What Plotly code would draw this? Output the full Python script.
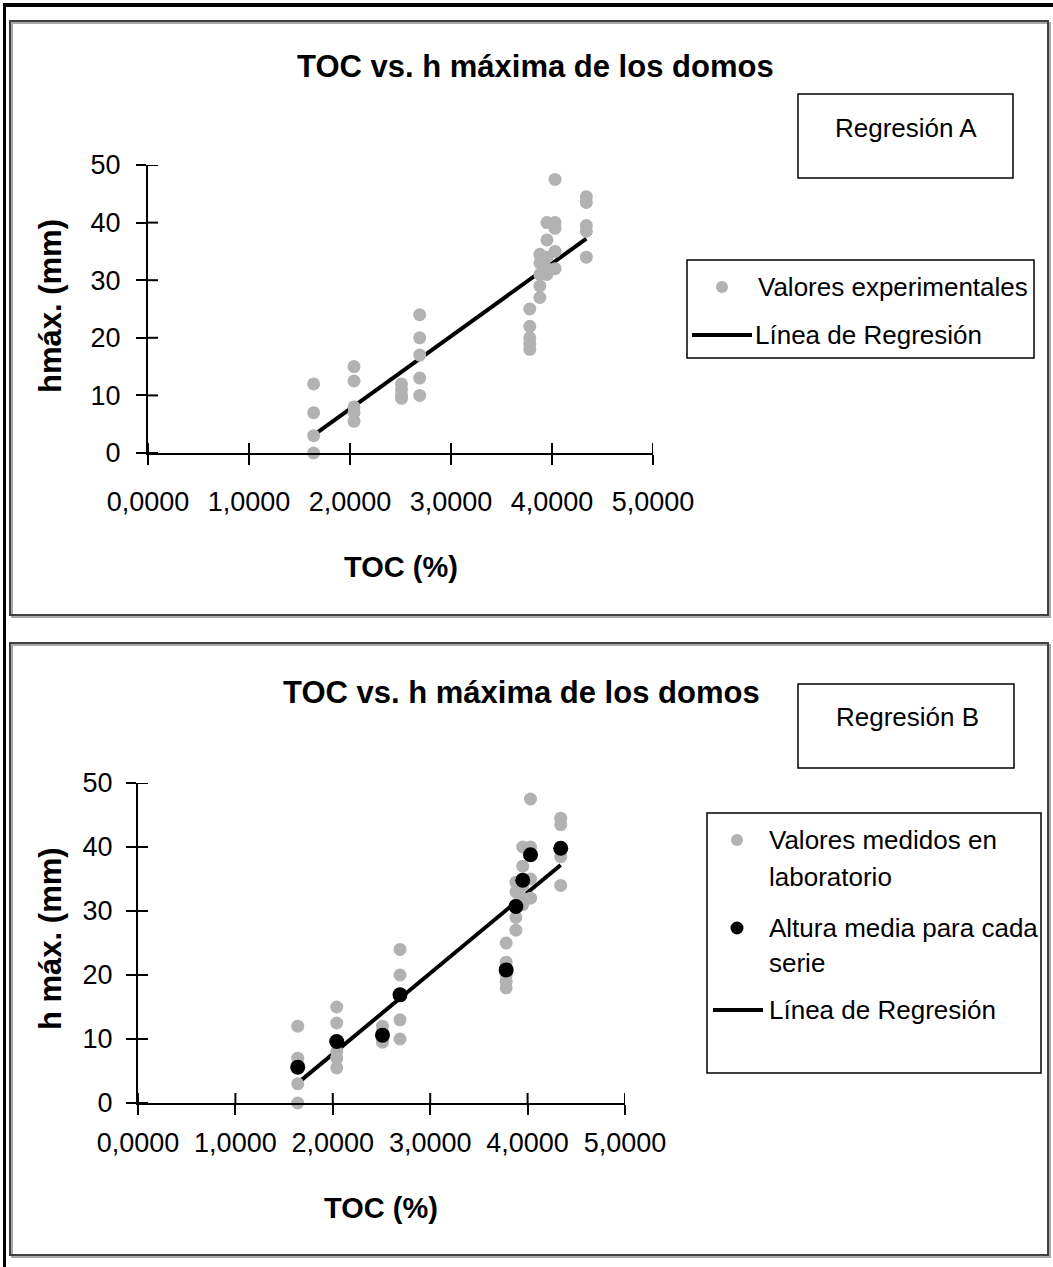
import plotly.graph_objects as go

# ---------------- data ----------------
exp_x = [1.64, 1.64, 1.64, 1.64,
         2.04, 2.04, 2.04, 2.04, 2.04,
         2.51, 2.51, 2.51, 2.51,
         2.69, 2.69, 2.69, 2.69, 2.69,
         3.78, 3.78, 3.78, 3.78, 3.78,
         3.88, 3.88, 3.88, 3.88, 3.88,
         3.95, 3.95, 3.95, 3.95, 3.95,
         4.03, 4.03, 4.03, 4.03, 4.03,
         4.34, 4.34, 4.34, 4.34, 4.34]
exp_y = [12, 7, 3, 0,
         15, 12.5, 8, 7, 5.5,
         12, 11, 10, 9.5,
         24, 20, 17, 13, 10,
         25, 22, 20, 19, 18,
         34.5, 33, 31, 29, 27,
         40, 37, 34, 32, 31,
         47.5, 40, 39, 35, 32,
         44.5, 43.5, 39.5, 38.5, 34]

mean_x = [1.64, 2.04, 2.51, 2.69, 3.78, 3.88, 3.95, 4.03, 4.34]
mean_y = [5.6, 9.6, 10.6, 16.9, 20.8, 30.7, 34.8, 38.8, 39.8]

reg_x = [1.64, 4.34]
reg_y = [3.1, 37.2]

x_tickvals = [0, 1, 2, 3, 4, 5]
x_ticktext = ["0,0000", "1,0000", "2,0000", "3,0000", "4,0000", "5,0000"]
y_tickvals = [0, 10, 20, 30, 40, 50]
y_ticktext = ["0", "10", "20", "30", "40", "50"]

title_text = "TOC vs. h máxima de los domos"
xtitle_text = "TOC (%)"
ytitle_a = "hmáx. (mm)"
ytitle_b = "h máx. (mm)"
box_a_text = "Regresión A"
box_b_text = "Regresión B"
leg_a = ["Valores experimentales", "Línea de Regresión"]
leg_b = ["Valores medidos en", "laboratorio", "Altura media para cada", "serie", "Línea de Regresión"]

# ---------------- style ----------------
W, H = 1053, 1267
REG = "Liberation Sans, Arial, sans-serif"
BOLD = "Liberation Sans, Arial, sans-serif"
GRAY = "#b2b2b2"
TICKSIZE = 27
TEXTSIZE = 26
TICKLEN = 10
TICKW = 2


def px(x):
    return x / W


def py(y):
    return 1 - y / H


fig = go.Figure()

# chart A
fig.add_trace(go.Scatter(x=reg_x, y=reg_y, mode="lines", line=dict(color="black", width=4),
                         xaxis="x", yaxis="y", showlegend=False, hoverinfo="skip"))
fig.add_trace(go.Scatter(x=exp_x, y=exp_y, mode="markers", marker=dict(color=GRAY, size=13),
                         xaxis="x", yaxis="y", showlegend=False, cliponaxis=False))
# chart B
fig.add_trace(go.Scatter(x=reg_x, y=reg_y, mode="lines", line=dict(color="black", width=4),
                         xaxis="x2", yaxis="y2", showlegend=False, hoverinfo="skip"))
fig.add_trace(go.Scatter(x=exp_x, y=exp_y, mode="markers", marker=dict(color=GRAY, size=13),
                         xaxis="x2", yaxis="y2", showlegend=False, cliponaxis=False))
fig.add_trace(go.Scatter(x=mean_x, y=mean_y, mode="markers", marker=dict(color="black", size=15),
                         xaxis="x2", yaxis="y2", showlegend=False, cliponaxis=False))

# plot-area pixel boxes (left, right, bottom, top)
area_a = (148, 653, 453, 165)
area_b = (138, 625, 1103, 783)
dom_xa = [px(area_a[0]), px(area_a[1])]
dom_ya = [py(area_a[2]), py(area_a[3])]
dom_xb = [px(area_b[0]), px(area_b[1])]
dom_yb = [py(area_b[2]), py(area_b[3])]

base_x = dict(range=[0, 5], tickvals=x_tickvals, ticktext=x_ticktext, showline=True, linecolor="black",
              linewidth=2, ticks="outside", ticklen=TICKLEN, tickwidth=TICKW, tickcolor="black", showgrid=False,
              zeroline=False, tickangle=0, automargin=False,
              tickfont=dict(family=REG, size=TICKSIZE, color="black"), fixedrange=True)
base_y = dict(range=[0, 50], tickvals=y_tickvals, ticktext=y_ticktext, showline=True, linecolor="black",
              linewidth=2, ticks="outside", ticklen=TICKLEN, tickwidth=TICKW, tickcolor="black", showgrid=False,
              zeroline=False, automargin=False,
              tickfont=dict(family=REG, size=TICKSIZE, color="black"), fixedrange=True)

fig.update_layout(
    template="none",
    width=W, height=H, autosize=False,
    margin=dict(l=0, r=0, t=0, b=0, pad=0, autoexpand=False),
    paper_bgcolor="white", plot_bgcolor="rgba(0,0,0,0)",
    xaxis=dict(base_x, domain=dom_xa, anchor="y", ticklabelstandoff=14),
    yaxis=dict(base_y, domain=dom_ya, anchor="x", ticklabelstandoff=10),
    xaxis2=dict(base_x, domain=dom_xb, anchor="y2", ticklabelstandoff=5),
    yaxis2=dict(base_y, domain=dom_yb, anchor="x2", ticklabelstandoff=8),
    showlegend=False,
)

shapes = []
ann = []

# inward half of the crossing ticks (Excel-style "cross" tick marks)
for xr, yr, area in [("x", "y", area_a), ("x2", "y2", area_b)]:
    wpx = area[1] - area[0]
    hpx = area[2] - area[3]
    for v in x_tickvals:
        shapes.append(dict(type="line", xref=xr, yref=yr + " domain", x0=v, x1=v, y0=0, y1=TICKLEN / hpx,
                           line=dict(color="black", width=TICKW)))
    for v in y_tickvals:
        shapes.append(dict(type="line", xref=xr + " domain", yref=yr, y0=v, y1=v, x0=0, x1=TICKLEN / wpx,
                           line=dict(color="black", width=TICKW)))

# outer frame lines
shapes.append(dict(type="line", xref="paper", yref="paper", x0=px(3), x1=px(1053), y0=py(5), y1=py(5),
                   line=dict(color="black", width=4)))
shapes.append(dict(type="line", xref="paper", yref="paper", x0=px(4.5), x1=px(4.5), y0=py(4), y1=py(1267),
                   line=dict(color="black", width=3)))
# chart boxes (with light shadow)
for (top, bot) in [(21, 615), (643, 1255)]:
    shapes.append(dict(type="rect", xref="paper", yref="paper", x0=px(12), x1=px(1050), y0=py(top + 2),
                       y1=py(bot + 2), line=dict(color="#a8a8a8", width=2)))
    shapes.append(dict(type="rect", xref="paper", yref="paper", x0=px(10), x1=px(1048), y0=py(top),
                       y1=py(bot), line=dict(color="#404040", width=2)))

# Regresión boxes
shapes.append(dict(type="rect", xref="paper", yref="paper", x0=px(798), x1=px(1013), y0=py(94), y1=py(178),
                   line=dict(color="black", width=1.5)))
shapes.append(dict(type="rect", xref="paper", yref="paper", x0=px(798), x1=px(1014), y0=py(684), y1=py(768),
                   line=dict(color="black", width=1.5)))
ann.append(dict(text=box_a_text, x=px(906), y=py(128)))
ann.append(dict(text=box_b_text, x=px(907), y=py(717)))

# Legend A
shapes.append(dict(type="rect", xref="paper", yref="paper", x0=px(687), x1=px(1034), y0=py(260), y1=py(358),
                   line=dict(color="black", width=1.5)))
shapes.append(dict(type="circle", xref="paper", yref="paper", xsizemode="pixel", ysizemode="pixel",
                   xanchor=px(722), yanchor=py(287), x0=-6, x1=6, y0=-6, y1=6,
                   fillcolor=GRAY, line=dict(width=0)))
shapes.append(dict(type="line", xref="paper", yref="paper", x0=px(692), x1=px(752), y0=py(335), y1=py(335),
                   line=dict(color="black", width=4)))
ann.append(dict(text=leg_a[0], x=px(756), y=py(287), xanchor="left"))
ann.append(dict(text=leg_a[1], x=px(753), y=py(335), xanchor="left"))

# Legend B
shapes.append(dict(type="rect", xref="paper", yref="paper", x0=px(707), x1=px(1041), y0=py(813), y1=py(1073),
                   line=dict(color="black", width=1.5)))
shapes.append(dict(type="circle", xref="paper", yref="paper", xsizemode="pixel", ysizemode="pixel",
                   xanchor=px(737), yanchor=py(840), x0=-6, x1=6, y0=-6, y1=6,
                   fillcolor=GRAY, line=dict(width=0)))
shapes.append(dict(type="circle", xref="paper", yref="paper", xsizemode="pixel", ysizemode="pixel",
                   xanchor=px(737), yanchor=py(928), x0=-6.5, x1=6.5, y0=-6.5, y1=6.5,
                   fillcolor="black", line=dict(width=0)))
shapes.append(dict(type="line", xref="paper", yref="paper", x0=px(713), x1=px(763), y0=py(1010), y1=py(1010),
                   line=dict(color="black", width=4)))
for txt, yy in zip(leg_b, [840, 877, 928, 963, 1010]):
    ann.append(dict(text=txt, x=px(767), y=py(yy), xanchor="left"))

# titles
ann.append(dict(text="<b>" + title_text + "</b>", x=px(535), y=py(67),
                font=dict(family=BOLD, size=31, color="black")))
ann.append(dict(text="<b>" + title_text + "</b>", x=px(521), y=py(692),
                font=dict(family=BOLD, size=31, color="black")))
ann.append(dict(text="<b>" + xtitle_text + "</b>", x=px(401), y=py(567),
                font=dict(family=BOLD, size=29, color="black")))
ann.append(dict(text="<b>" + xtitle_text + "</b>", x=px(381), y=py(1208),
                font=dict(family=BOLD, size=29, color="black")))
ann.append(dict(text="<b>" + ytitle_a + "</b>", x=px(50), y=py(306), textangle=-90,
                font=dict(family=BOLD, size=31, color="black")))
ann.append(dict(text="<b>" + ytitle_b + "</b>", x=px(50), y=py(939), textangle=-90,
                font=dict(family=BOLD, size=31, color="black")))

annotations = []
for a in ann:
    d = dict(xref="paper", yref="paper", showarrow=False, xanchor="center", yanchor="middle",
             font=dict(family=REG, size=TEXTSIZE, color="black"))
    d.update(a)
    annotations.append(d)

fig.update_layout(shapes=shapes, annotations=annotations)

fig.write_html(
    "out.html",
    config={"displayModeBar": False},
    post_script="document.body.style.margin='0';document.body.style.padding='0';"
                "document.documentElement.style.overflow='hidden';document.body.style.overflow='hidden';",
)
